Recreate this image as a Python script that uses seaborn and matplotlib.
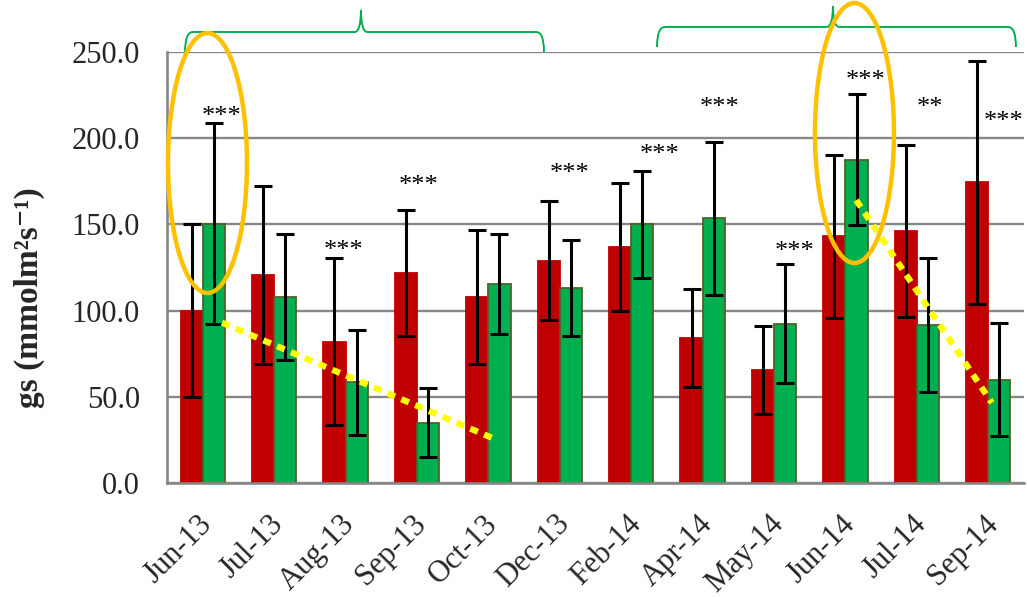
import numpy as np
import pandas as pd
import matplotlib
matplotlib.use("Agg")
import matplotlib.pyplot as plt
import matplotlib.transforms as mtransforms
from matplotlib.path import Path
from matplotlib.patches import PathPatch, Ellipse
from matplotlib.ticker import FixedLocator, FormatStrFormatter
import seaborn as sns

# ---- data -------------------------------------------------------------
months = ["Jun-13", "Jul-13", "Aug-13", "Sep-13", "Oct-13", "Dec-13",
          "Feb-14", "Apr-14", "May-14", "Jun-14", "Jul-14", "Sep-14"]
gs_a = [100.0, 120.5, 82.0, 122.0, 108.0, 129.0, 137.0, 84.0, 65.5, 143.0, 146.0, 174.5]
err_a = [50.0, 51.5, 48.5, 36.5, 39.0, 34.5, 37.0, 28.5, 25.5, 47.5, 50.0, 70.5]
gs_b = [150.5, 108.0, 58.5, 35.0, 115.5, 113.0, 150.0, 153.5, 92.5, 187.5, 91.5, 60.0]
err_b = [58.5, 36.5, 30.5, 20.0, 29.0, 28.0, 31.0, 44.5, 34.5, 38.0, 39.0, 33.0]

# significance marks: category index, offset within category, height of the mark
sig_idx = [0, 2, 3, 5, 6, 7, 8, 9, 10, 11]
sig_text = ["***", "***", "***", "***", "***", "***", "***", "***", "**", "***"]
sig_dx = [0.27, -0.03, 0.02, 0.14, 0.40, 0.24, 0.29, 0.28, 0.18, 0.22]
sig_y = [216, 138, 176, 183, 194, 221, 137.5, 236.5, 221, 213]

yticks = [0, 50, 100, 150, 200, 250]

RED = "#C00000"
GREEN = "#00B050"
GREEN_EDGE = "#4F6228"
GRID = "#878787"

df = pd.DataFrame({
    "month": months * 2,
    "gs": gs_a + gs_b,
    "series": ["A"] * len(months) + ["B"] * len(months),
})

sns.set_style("white")
plt.rcParams["font.family"] = ["Liberation Serif", "DejaVu Serif"]

W, H = 1027, 597
fig = plt.figure(figsize=(W / 100, H / 100), dpi=100)
ax = fig.add_axes([167 / W, 1 - 483 / H, 857 / W, 431 / H])

sns.barplot(data=df, x="month", y="gs", hue="series", order=months,
            palette=[RED, GREEN], saturation=1, width=0.62, gap=0,
            errorbar=None, legend=False, ax=ax, zorder=2)

# bar edges and error bars
for cont, vals, errs, edge in zip(ax.containers, [gs_a, gs_b], [err_a, err_b],
                                  [RED, GREEN_EDGE]):
    xs = []
    for bar in cont:
        bar.set_edgecolor(edge)
        bar.set_linewidth(1.3)
        xs.append(bar.get_x() + bar.get_width() / 2)
    ax.errorbar(xs, vals, yerr=errs, fmt="none", ecolor="black",
                elinewidth=2.2, capsize=6.5, capthick=2.2, zorder=4)

# significance stars
for i, t, dx, y in zip(sig_idx, sig_text, sig_dx, sig_y):
    ax.text(i + dx, y - 7, t, ha="center", va="baseline", fontsize=19,
            color="black", zorder=6, clip_on=False)

# axes styling
ax.set_xlim(-0.5, len(months) - 0.5)
ax.set_ylim(0, 250)
ax.set_axisbelow(True)
ax.yaxis.grid(True, color=GRID, lw=1.7)
ax.xaxis.grid(False)
ax.yaxis.set_major_locator(FixedLocator(yticks))
ax.yaxis.set_major_formatter(FormatStrFormatter("%.1f"))
for side in ["top", "right"]:
    ax.spines[side].set_visible(False)
for side in ["left", "bottom"]:
    ax.spines[side].set_color(GRID)
    ax.spines[side].set_linewidth(1.9)
ax.tick_params(axis="y", which="major", direction="out", length=6.5,
               width=1.7, color=GRID, pad=13, labelsize=22)
ax.xaxis.set_minor_locator(FixedLocator(np.arange(-0.5, len(months), 1.0)))
ax.tick_params(axis="x", which="minor", direction="out", length=6.5,
               width=1.7, color=GRID)
ax.tick_params(axis="x", which="major", length=0, pad=19, labelsize=22)
shift = mtransforms.ScaledTranslation(-5 / 100, 0, fig.dpi_scale_trans)
for lab in ax.get_xticklabels():
    lab.set_rotation(45)
    lab.set_ha("right")
    lab.set_va("top")
    lab.set_rotation_mode("anchor")
    lab.set_transform(lab.get_transform() + shift)
ax.set_xlabel("")
ax.set_ylabel("gs (mmolm²s⁻¹)", fontsize=24, fontweight="bold")
ax.yaxis.set_label_coords(-0.142, 0.43)

# dotted trend guides
ax.plot([0.27, 4.09], [93, 25.5], color="#FFFF00", lw=4.5,
        linestyle=(0, (1.3, 1.1)), solid_capstyle="butt",
        dash_capstyle="butt", zorder=5)
ax.plot([9.15, 11.05], [164, 46.5], color="#FFFF00", lw=4.5,
        linestyle=(0, (1.3, 1.1)), solid_capstyle="butt",
        dash_capstyle="butt", zorder=5)

# highlight ellipses
for cx, cy in [(0.067, 185.6), (9.126, 203.0)]:
    ax.add_patch(Ellipse((cx, cy), 1.106, 150.8, fill=False,
                         edgecolor="#FFC000", lw=3.2, zorder=7, clip_on=False))


# curly braces over the two periods
def brace(x0, x1, xm, yb, yl, yt, dx=0.11, dm=0.09):
    verts = [(x0, yb), (x0, yl), (x0 + dx, yl),
             (xm - dm, yl),
             (xm, yl), (xm, yt),
             (xm, yl), (xm + dm, yl),
             (x1 - dx, yl),
             (x1, yl), (x1, yb)]
    codes = [Path.MOVETO, Path.CURVE3, Path.CURVE3,
             Path.LINETO,
             Path.CURVE3, Path.CURVE3,
             Path.CURVE3, Path.CURVE3,
             Path.LINETO,
             Path.CURVE3, Path.CURVE3]
    ax.add_patch(PathPatch(Path(verts, codes), fill=False, edgecolor=GREEN,
                           lw=1.4, clip_on=False, zorder=6))


brace(-0.248, 4.779, 2.216, 250.0, 261.6, 274.4)
brace(6.361, 11.387, 8.825, 252.9, 264.5, 276.7)

fig.savefig("out.png", dpi=100)
